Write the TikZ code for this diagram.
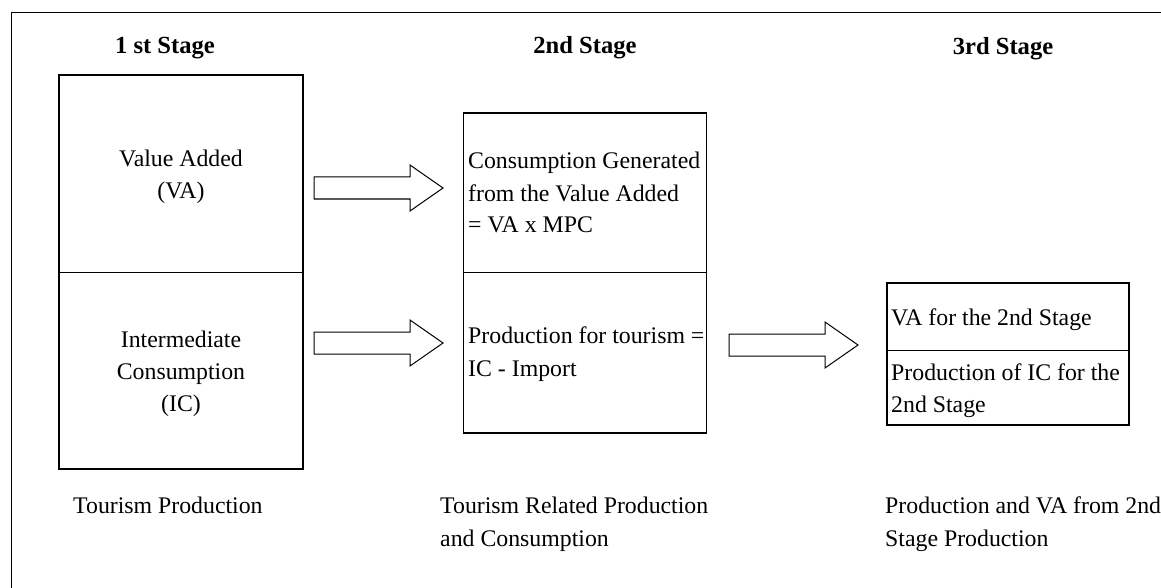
\documentclass[tikz,border=0pt]{standalone}
\usepackage{fontspec}
\setmainfont{Liberation Serif}
\begin{document}
\begin{tikzpicture}[x=1pt,y=-1pt,
  frameline/.style={draw=black, line width=1pt},
  boxs/.style={draw=black, line width=1.4pt, inner sep=0pt, rectangle},
  divline/.style={draw=black, line width=1pt},
  arrowline/.style={draw=black, line width=1pt, fill=white},
  txt/.style={font=\fontsize{23.8}{32}\selectfont, inner sep=0pt},
  ctxt/.style={txt, anchor=base},
  ltxt/.style={txt, anchor=base west},
  head/.style={font=\fontsize{24.6}{32}\selectfont\bfseries, inner sep=0pt, anchor=base},
  blockarrow/.pic={
    \draw[arrowline] (0,-11) -- (96,-11) -- (96,-23) -- (129,0) -- (96,23) -- (96,11) -- (0,11) -- cycle;
  }
]
\clip (0,0) rectangle (1161,588);
\useasboundingbox (0,0) rectangle (1161,588);

% frame (only left and top edges visible)
\coordinate (fa) at (11,700);
\coordinate (fb) at (11,13);
\coordinate (fc) at (1300,13);
\draw[frameline] (fa) -- (fb) -- (fc);

% headings
\node[head] (h1) at (165,54) {1 st Stage};
\node[head] (h2) at (585,54) {2nd Stage};
\node[head] (h3) at (1003,55) {3rd Stage};

% boxes
\node[boxs, minimum width=244pt, minimum height=394pt] (b1) at (181,272) {};
\node[boxs, minimum width=243pt, minimum height=320pt] (b2) at (585,273) {};
\node[boxs, minimum width=242pt, minimum height=142pt] (b3) at (1008,354) {};

\coordinate (d1) at (0,272);
\coordinate (d3) at (0,350);
\draw[divline] (b1.west |- d1) -- (b1.east |- d1);
\draw[divline] (b2.west |- d1) -- (b2.east |- d1);
\draw[divline] (b3.west |- d3) -- (b3.east |- d3);

% box 1 texts
\node[ctxt] (t1a) at (181,167) {Value Added};
\node[ctxt] (t1b) at (181,199) {(VA)};
\node[ctxt] (t1c) at (181,347) {Intermediate};
\node[ctxt] (t1d) at (181,379) {Consumption};
\node[ctxt] (t1e) at (181,411) {(IC)};

% box 2 texts
\node[ltxt] (t2a) at (468,169) {Consumption Generated};
\node[ltxt] (t2b) at (468,201) {from the Value Added};
\node[ltxt] (t2c) at (468,233) {= VA x MPC};
\node[ltxt] (t2d) at (468,343) {Production for tourism =};
\node[ltxt] (t2e) at (468,376) {IC - Import};

% box 3 texts
\node[ltxt] (t3a) at (891,325) {VA for the 2nd Stage};
\node[ltxt] (t3b) at (891,380) {Production of IC for the};
\node[ltxt] (t3c) at (891,412) {2nd Stage};

% arrows
\pic at (314,188) {blockarrow};
\pic at (314,343) {blockarrow};
\pic at (729,345) {blockarrow};

% bottom captions
\node[ltxt] (c1) at (73,513) {Tourism Production};
\node[ltxt] (c2a) at (440,513) {Tourism Related Production};
\node[ltxt] (c2b) at (440,546) {and Consumption};
\node[ltxt] (c3a) at (885,513) {Production and VA from 2nd};
\node[ltxt] (c3b) at (885,546) {Stage Production};
\end{tikzpicture}
\end{document}
